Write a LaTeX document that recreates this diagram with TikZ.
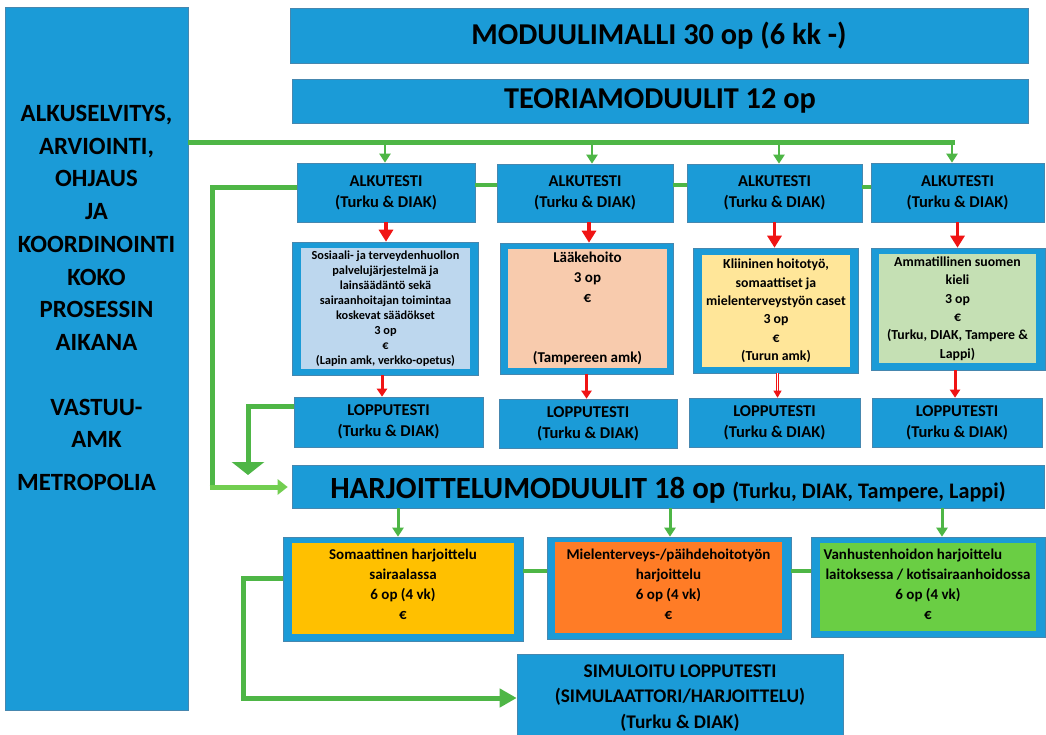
\documentclass[tikz,border=0pt]{standalone}
\usepackage{fontspec}
\setmainfont{Carlito}
\usetikzlibrary{arrows.meta,calc}
\definecolor{mblue}{RGB}{27,155,215}
\definecolor{mborder}{RGB}{70,135,175}
\definecolor{gstroke}{RGB}{78,182,70}
\definecolor{glight}{RGB}{114,206,80}
\definecolor{fillA}{RGB}{189,215,238}
\definecolor{fillB}{RGB}{248,203,173}
\definecolor{fillC}{RGB}{255,230,153}
\definecolor{fillD}{RGB}{197,224,180}
\definecolor{fillE}{RGB}{255,192,0}
\definecolor{fillF}{RGB}{255,124,38}
\definecolor{fillG}{RGB}{106,206,68}
\definecolor{rstroke}{RGB}{240,20,20}
\begin{document}
\begin{tikzpicture}[x=1pt,y=-1pt,
  bluebox/.style={draw=mborder, line width=0.6pt, fill=mblue, inner sep=0pt, align=center},
  innerbox/.style={fill=#1, inner sep=0pt, align=center},
  gthick/.style={draw=gstroke, line width=5pt},
  gmid/.style={draw=gstroke, line width=4pt},
  gsmall/.style={draw=gstroke, line width=2.2pt, -{Triangle[width=11pt,length=9pt]}},
  rbig/.style={draw=rstroke, line width=3.5pt, -{Triangle[width=14pt,length=12pt]}},
  rsmall/.style={draw=rstroke, line width=3pt, -{Triangle[width=10pt,length=8pt]}},
  sz/.style 2 args={font=\bfseries\fontsize{#1}{#2}\selectfont}
]
\fill[white] (0,0) rectangle (1046,735);
\useasboundingbox (0,0) rectangle (1046,735);

% left column
\node[bluebox, minimum width=183pt, minimum height=703pt] (left) at (96.5,358.5) {};
\node[sz={24.8}{32.7}, align=center] (lefttext) at (96.5,298) {ALKUSELVITYS,\\ARVIOINTI,\\OHJAUS\\JA\\KOORDINOINTI\\KOKO\\PROSESSIN\\AIKANA\\[32pt]VASTUU-\\AMK\\[10pt]METROPOLIA\hspace*{20pt}};

% headers
\node[bluebox, minimum width=738pt, minimum height=55pt, sz={30.3}{36}] (mod) at (659,35.5) {MODUULIMALLI 30 op (6 kk -)};
\node[bluebox, minimum width=736pt, minimum height=44pt, sz={30.3}{36}] (teo) at (660,101) {TEORIAMODUULIT 12 op};

% alkutesti row
\node[bluebox, minimum width=178pt, minimum height=59pt, sz={16.5}{21}] (alk1) at (386,192.5) {ALKUTESTI\\(Turku \& DIAK)};
\node[bluebox, minimum width=176pt, minimum height=58pt, sz={16.5}{21}] (alk2) at (585,193) {ALKUTESTI\\(Turku \& DIAK)};
\node[bluebox, minimum width=175pt, minimum height=58pt, sz={16.5}{21}] (alk3) at (774.5,193) {ALKUTESTI\\(Turku \& DIAK)};
\node[bluebox, minimum width=173pt, minimum height=59pt, sz={16.5}{21}] (alk4) at (957.5,192.5) {ALKUTESTI\\(Turku \& DIAK)};

% content row
\node[bluebox, minimum width=186pt, minimum height=133pt] (cont1) at (385,308.5) {};
\node[innerbox=fillA, minimum width=169pt, minimum height=121pt, sz={12.3}{15}] (cont1in) at (385.5,308.5) {Sosiaali- ja terveydenhuollon\\palvelujärjestelmä ja\\lainsäädäntö sekä\\sairaanhoitajan toimintaa\\koskevat säädökset\\3 op\\€\\(Lapin amk, verkko-opetus)};
\node[bluebox, minimum width=173pt, minimum height=131pt] (cont2) at (586.5,308.5) {};
\node[innerbox=fillB, minimum width=159pt, minimum height=119pt, sz={15}{20}] (cont2in) at (587.5,308.5) {Lääkehoito\\3 op\\€\\[40pt](Tampereen amk)};
\node[bluebox, minimum width=165pt, minimum height=125pt] (cont3) at (775.5,310.5) {};
\node[innerbox=fillC, minimum width=148pt, minimum height=112pt, sz={13.8}{18.4}] (cont3in) at (776,311) {Kliininen hoitotyö,\\somaattiset ja\\mielenterveystyön caset\\3 op\\€\\(Turun amk)};
\node[bluebox, minimum width=174pt, minimum height=122pt] (cont4) at (958,309) {};
\node[innerbox=fillD, minimum width=157pt, minimum height=109pt, sz={13.8}{18.4}] (cont4in) at (957.5,308.5) {Ammatillinen suomen\\kieli\\3 op\\€\\(Turku, DIAK, Tampere \&\\Lappi)};

% lopputesti row
\node[bluebox, minimum width=189pt, minimum height=50pt, sz={16.5}{21}] (lop1) at (388.5,422) {LOPPUTESTI\\(Turku \& DIAK)};
\node[bluebox, minimum width=178pt, minimum height=49pt, sz={16.5}{21}] (lop2) at (588,423.5) {LOPPUTESTI\\(Turku \& DIAK)};
\node[bluebox, minimum width=171pt, minimum height=49pt, sz={16.5}{21}] (lop3) at (774.5,422.5) {LOPPUTESTI\\(Turku \& DIAK)};
\node[bluebox, minimum width=170pt, minimum height=49pt, sz={16.5}{21}] (lop4) at (957,422.5) {LOPPUTESTI\\(Turku \& DIAK)};

% harjoittelu
\node[bluebox, minimum width=752pt, minimum height=43pt] (harj) at (668,486.5) {};
\node[sz={30.8}{36}] (harjtext) at (668,490) {HARJOITTELUMODUULIT 18 op {\fontsize{22.2}{26}\selectfont (Turku, DIAK, Tampere, Lappi)}};

% bottom row
\node[bluebox, minimum width=240pt, minimum height=104pt] (bot1) at (403,589) {};
\node[innerbox=fillE, minimum width=222pt, minimum height=91pt] (bot1in) at (403,588.5) {};
\node[sz={15}{20}, align=center] (bot1text) at (403,584) {Somaattinen harjoittelu\\sairaalassa\\6 op (4 vk)\\€};
\node[bluebox, minimum width=244pt, minimum height=102pt] (bot2) at (669,588) {};
\node[innerbox=fillF, minimum width=227pt, minimum height=91pt] (bot2in) at (668.5,587.5) {};
\node[sz={15}{20}, align=center] (bot2text) at (668.5,584) {Mielenterveys-/päihdehoitotyön\\harjoittelu\\6 op (4 vk)\\€};
\node[bluebox, minimum width=234pt, minimum height=100pt] (bot3) at (928,587) {};
\node[innerbox=fillG, minimum width=216pt, minimum height=88pt] (bot3in) at (928,587) {};
\node[sz={15}{20}, align=center] (bot3text) at (928,584) {\makebox[209pt][l]{Vanhustenhoidon harjoittelu}\\laitoksessa / kotisairaanhoidossa\\6 op (4 vk)\\€};

% simuloitu
\node[bluebox, minimum width=326pt, minimum height=87pt, sz={19.3}{25.5}] (sim) at (680,698) {SIMULOITU LOPPUTESTI\\(SIMULAATTORI/HARJOITTELU)\\(Turku \& DIAK)};

% top green distribution line
\coordinate (tr) at (952,143);
\draw[gthick] (tr -| left.east) -- ([xshift=2.5pt]tr);
\draw[gsmall] ([xshift=-1pt]alk1.north |- tr) -- ([xshift=-1pt]alk1.north);
\draw[gsmall] ([xshift=7pt]alk2.north |- tr) -- ([xshift=7pt]alk2.north);
\draw[gsmall] ([xshift=4.5pt]alk3.north |- tr) -- ([xshift=4.5pt]alk3.north);
\draw[gsmall] (tr) -- (tr |- alk4.north);

% connectors between alkutesti boxes
\draw[gmid] ([yshift=7.5pt]alk1.east) -- ([yshift=7.5pt]alk1.east -| alk2.west);
\draw[gmid] ([yshift=7.5pt]alk2.east) -- ([yshift=7.5pt]alk2.east -| alk3.west);
\draw[gmid] ([yshift=6pt]alk3.east) -- ([yshift=6pt]alk3.east -| alk4.west);

% red arrows
\draw[rbig] (alk1.south) -- (alk1.south |- cont1.north);
\draw[rbig] ([xshift=4pt]alk2.south) -- ([xshift=4pt]alk2.south |- cont2.north);
\draw[rbig] (alk3.south) -- (alk3.south |- cont3.north);
\draw[rbig] (alk4.south) -- (alk4.south |- cont4.north);
\draw[rsmall] ([xshift=-3pt]cont1.south) -- ([xshift=-3pt]cont1.south |- lop1.north);
\draw[rsmall] (cont2.south) -- (cont2.south |- lop2.north);
\draw[draw=rstroke, line width=0.7pt, double=white, double distance=1.6pt, -{Triangle[width=8pt,length=7pt]}] ([xshift=2pt]cont3.south) -- ([xshift=2pt]cont3.south |- lop3.north);
\draw[rsmall] ([xshift=-3pt]cont4.south) -- ([xshift=-3pt]cont4.south |- lop4.north);

% green routes to harjoittelu
\coordinate (jA) at (212,487);
\draw[gthick] ([yshift=4.5pt]alk1.west) -| ([yshift=-2.5pt]jA);
\draw[draw=glight, line width=5pt, -{Triangle[width=15pt,length=10pt]}, shorten >=4pt] ([xshift=-2.5pt]jA) -- (jA -| harj.west);
\coordinate (jB) at (248,475);
\draw[gthick, -{Triangle[width=32pt,length=13pt]}] ([yshift=16pt]lop1.west) -| (jB);

% harjoittelu to bottom boxes
\draw[gsmall, line width=3pt] ([xshift=-5pt]bot1.north |- harj.south) -- ([xshift=-5pt]bot1.north);
\draw[gsmall, line width=3pt] ([xshift=1pt]bot2.north |- harj.south) -- ([xshift=1pt]bot2.north);
\draw[gsmall, line width=3pt] ([xshift=14pt]bot3.north |- harj.south) -- ([xshift=14pt]bot3.north);
\draw[gmid] ([yshift=18pt]bot1.east) -- ([yshift=18pt]bot1.east -| bot2.west);
\draw[gmid] ([yshift=17pt]bot2.east) -- ([yshift=17pt]bot2.east -| bot3.west);

% bottom route to simuloitu
\coordinate (jC) at (243,698);
\draw[gthick, -{Triangle[width=18pt,length=17pt]}] ([yshift=11pt]bot1.west) -| (jC) -- (jC -| sim.west);
\end{tikzpicture}
\end{document}
